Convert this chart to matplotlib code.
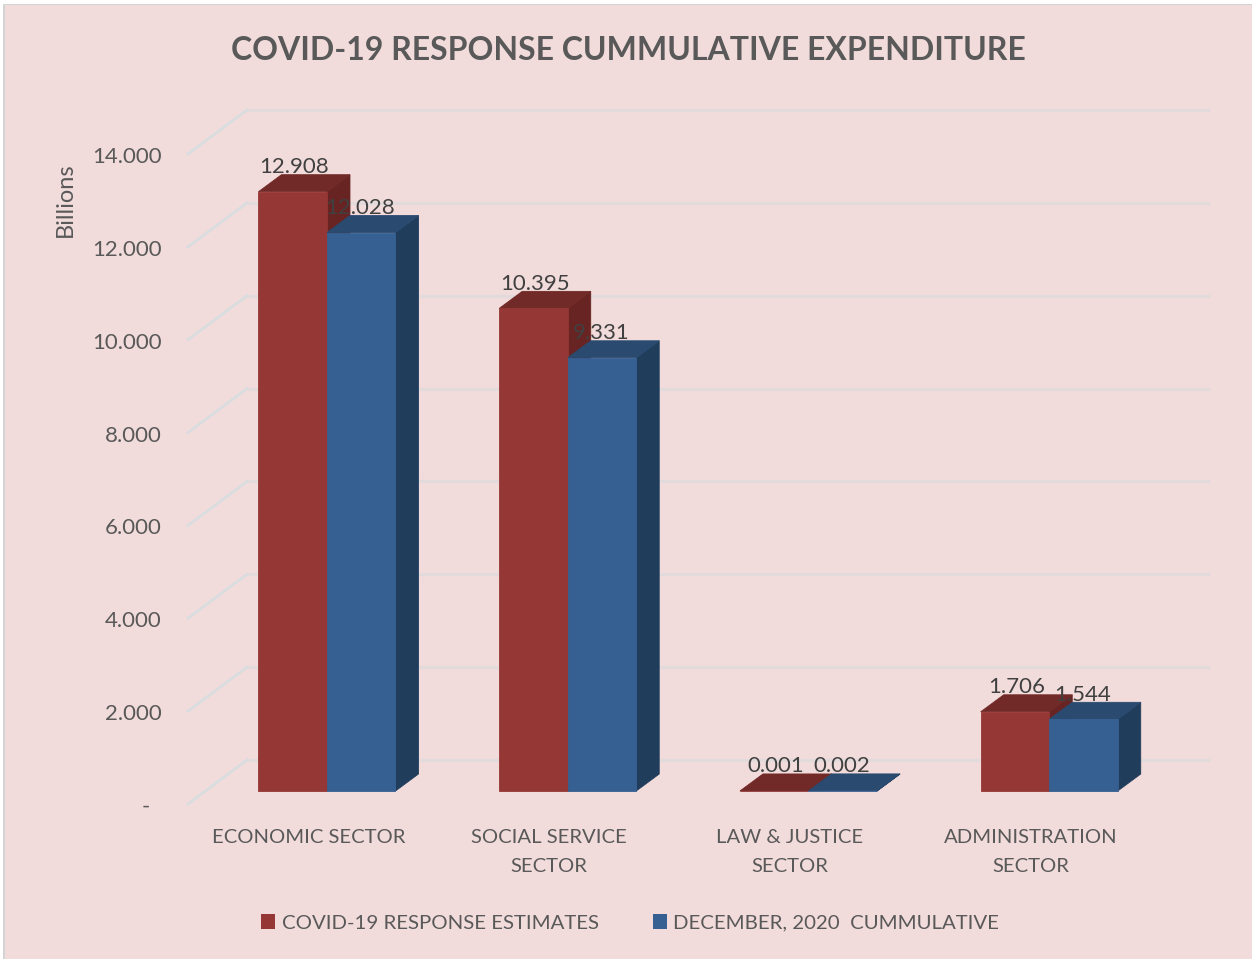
import matplotlib
matplotlib.use("Agg")
import matplotlib.pyplot as plt
from matplotlib.patches import Polygon, Rectangle
from matplotlib.transforms import Affine2D

categories = ["ECONOMIC SECTOR", "SOCIAL SERVICE\nSECTOR", "LAW & JUSTICE\nSECTOR", "ADMINISTRATION\nSECTOR"]
estimates = [12.908, 10.395, 0.001, 1.706]
cumulative = [12.028, 9.331, 0.002, 1.544]
estimate_labels = ["12.908", "10.395", "0.001", "1.706"]
cumulative_labels = ["12.028", "9.331", "0.002", "1.544"]
yticks = [0, 2, 4, 6, 8, 10, 12, 14]
ytick_labels = ["-", "2.000", "4.000", "6.000", "8.000", "10.000", "12.000", "14.000"]
series_names = ["COVID-19 RESPONSE ESTIMATES", "DECEMBER, 2020  CUMMULATIVE"]
title = "COVID-19 RESPONSE CUMMULATIVE EXPENDITURE"

W, H = 1252, 959
FONT = "Lato"
BG = "#f2dcdb"
TXT = "#595959"
RED, RED_TOP, RED_SIDE = "#953735", "#722a28", "#672422"
BLUE, BLUE_TOP, BLUE_SIDE = "#366092", "#2a4a70", "#203d5c"
GRID_BACK, GRID_SIDE = "#e2dadb", "#d9dddf"

fig = plt.figure(figsize=(W / 100, H / 100), dpi=100, facecolor=BG)
# Axes frame: y=0 at pixel row 804, y=14 at row 154, x from 188 to 1151
ax = fig.add_axes([188 / W, 1 - 804 / H, (1151 - 188) / W, (804 - 154) / H])
ax.set_xlim(-0.5, 3.5)
ax.set_ylim(0, 14)
ax.patch.set_visible(False)
for s in ax.spines.values():
    s.set_visible(False)

def shift(dx, dy):
    return ax.transData + Affine2D().translate(dx, dy)

# 3-D box geometry in pixels
FLOOR_DX, FLOOR_DY = 59, 44     # back wall relative to axes front
BAR_DX, BAR_DY = 18.6, 13       # bar front plane relative to axes front
DEPTH_DX, DEPTH_DY = 23, 17     # bar depth
BAR_W = 68.5 / 240.75           # in category units

# gridlines: diagonal on side wall + horizontal on back wall
back = shift(FLOOR_DX, FLOOR_DY)
for t in yticks:
    ax.plot([-0.5, 3.5 + (1210 - 1151 - FLOOR_DX) / 240.75], [t, t], color=GRID_BACK, lw=2.4,
            transform=back, zorder=1, clip_on=False, solid_capstyle="butt")
    x0, y0 = ax.transData.transform((-0.5, t))
    ax.plot([x0, x0 + FLOOR_DX], [y0, y0 + FLOOR_DY], color=GRID_SIDE, lw=2.0,
            transform=None, zorder=1, clip_on=False)

def draw_bar(l, v, face, top, side, z):
    r = l + BAR_W
    front = shift(BAR_DX, BAR_DY)
    def pix(x, y, back_plane):
        px, py = front.transform((x, y))
        if back_plane:
            px += DEPTH_DX
            py += DEPTH_DY
        return (px, py)
    ax.add_patch(Polygon([pix(r, 0, 0), pix(r, 0, 1), pix(r, v, 1), pix(r, v, 0)],
                         closed=True, fc=side, ec=side, lw=0.6, transform=None, zorder=z, clip_on=False))
    ax.add_patch(Polygon([pix(l, v, 0), pix(l, v, 1), pix(r, v, 1), pix(r, v, 0)],
                         closed=True, fc=top, ec=top, lw=0.6, transform=None, zorder=z + 0.1, clip_on=False))
    ax.add_patch(Polygon([pix(l, 0, 0), pix(r, 0, 0), pix(r, v, 0), pix(l, v, 0)],
                         closed=True, fc=face, ec=face, lw=0.6, transform=None, zorder=z + 0.2, clip_on=False))

for i, (a, b) in enumerate(zip(estimates, cumulative)):
    draw_bar(i - BAR_W, a, RED, RED_TOP, RED_SIDE, 2)
    draw_bar(i, b, BLUE, BLUE_TOP, BLUE_SIDE, 3)

# data labels
for i, (a, b, la, lb) in enumerate(zip(estimates, cumulative, estimate_labels, cumulative_labels)):
    ax.annotate(la, (i - BAR_W / 2, a), xytext=(BAR_DX + 1.5, BAR_DY + 24.5), textcoords="offset pixels",
                ha="center", va="center", fontsize=16, family=FONT, color="#404040", zorder=6, annotation_clip=False)
    ax.annotate(lb, (i + BAR_W / 2, b), xytext=(BAR_DX - 1, BAR_DY + 24.5), textcoords="offset pixels",
                ha="center", va="center", fontsize=16, family=FONT, color="#404040", zorder=6, annotation_clip=False)

# axes labels
ax.set_yticks(yticks)
ax.set_yticklabels(ytick_labels, fontsize=16, family=FONT, color=TXT)
ax.tick_params(axis="y", length=0, pad=19)
for lab, t in zip(ax.get_yticklabels(), yticks):
    lab.set_transform(lab.get_transform() + Affine2D().translate(-12 if t == 0 else 0, -1))
ax.set_xticks(range(4))
ax.set_xticklabels(categories, fontsize=14.6, family=FONT, color=TXT, linespacing=1.85)
ax.tick_params(axis="x", length=0, pad=18)
fig.text(65 / W, 1 - 200 / H, "Billions", rotation=90, ha="center", va="center",
         fontsize=17, family=FONT, color=TXT)
fig.text(628.5 / W, 1 - 50 / H, title, ha="center", va="center", fontsize=23, fontweight="bold",
         family=FONT, color=TXT)

# legend
handles = [Rectangle((0, 0), 1, 1, fc=RED), Rectangle((0, 0), 1, 1, fc=BLUE)]
fig.legend(handles, series_names, loc="center", bbox_to_anchor=(630 / W, 1 - 923 / H), ncol=2, frameon=False,
           prop={"family": FONT, "size": 14.66}, labelcolor=TXT, handlelength=0.69, handleheight=0.69,
           handletextpad=0.3, columnspacing=2.65)

# outer frame: white margin with a thin grey edge on the top and left
fig.add_artist(Rectangle((0, 0), 3 / W, 1, transform=fig.transFigure, fc="white", ec="none"))
fig.add_artist(Rectangle((0, 1 - 4 / H), 1, 4 / H, transform=fig.transFigure, fc="white", ec="none"))
fig.add_artist(Rectangle((3 / W, 0), 2 / W, 1 - 4 / H, transform=fig.transFigure, fc="#d4d4d4", ec="none"))
fig.add_artist(Rectangle((3 / W, 1 - 5 / H), 1, 1 / H, transform=fig.transFigure, fc="#d4d4d4", ec="none"))

fig.savefig("out.png", dpi=100, facecolor=BG)
